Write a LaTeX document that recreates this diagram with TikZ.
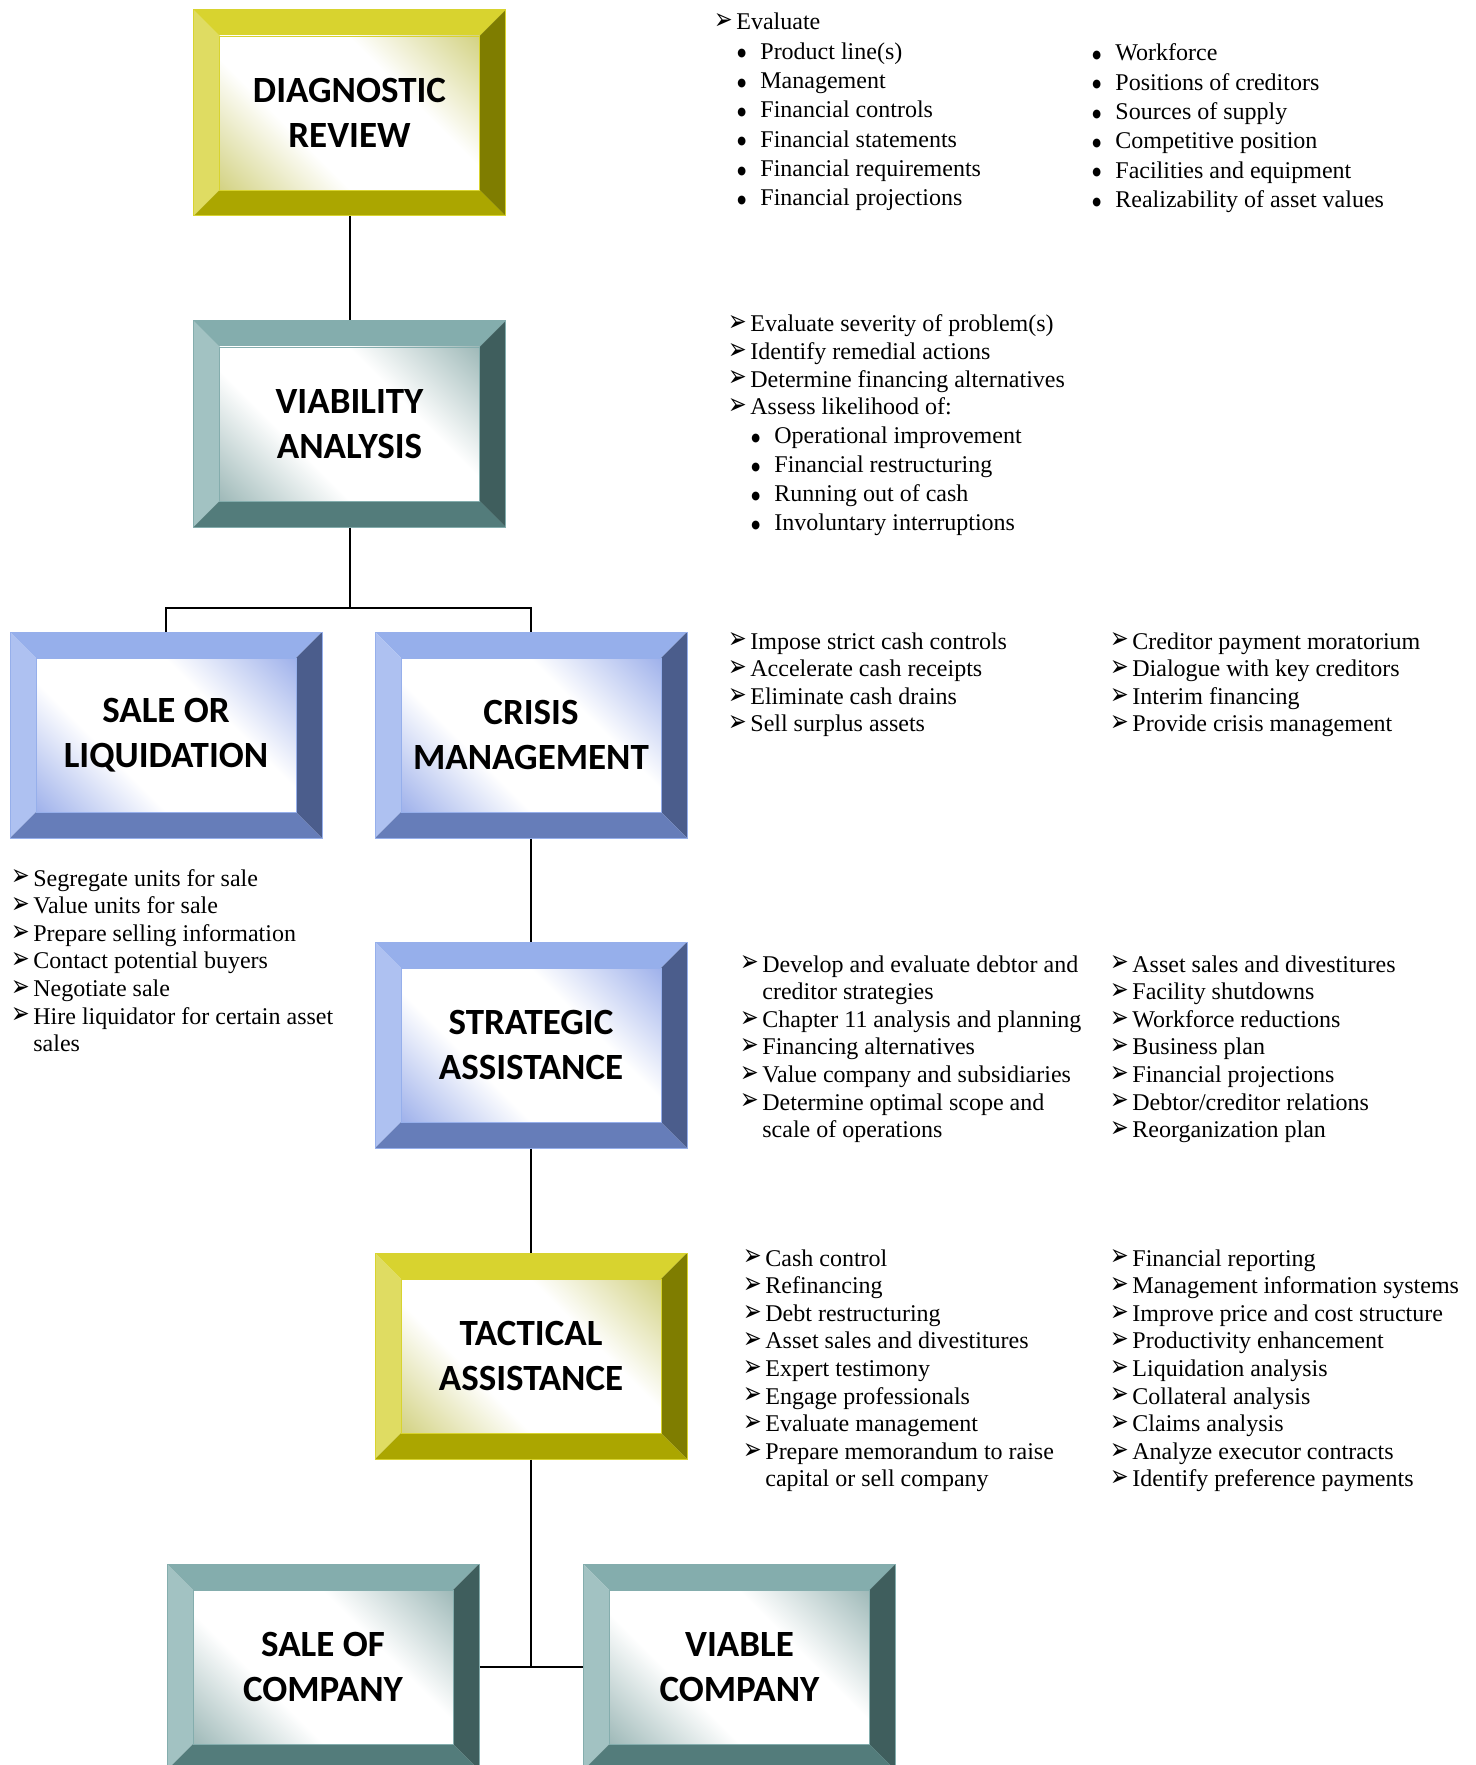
\documentclass[tikz,border=0pt]{standalone}
\usepackage{fontspec}
\setmainfont{Liberation Serif}
\newfontfamily\titlefont{Carlito}
\newfontfamily\symfont{DejaVu Sans}
\usepackage{graphicx}
\usepackage{tikz}
\definecolor{yelT}{RGB}{216,211,47}
\definecolor{yelL}{RGB}{223,220,98}
\definecolor{yelR}{RGB}{127,125,0}
\definecolor{yelB}{RGB}{171,166,0}
\definecolor{yelC}{RGB}{200,199,100}
\definecolor{bluT}{RGB}{150,175,235}
\definecolor{bluL}{RGB}{174,193,241}
\definecolor{bluR}{RGB}{75,93,140}
\definecolor{bluB}{RGB}{102,125,185}
\definecolor{bluC}{RGB}{135,158,230}
\definecolor{tealT}{RGB}{132,173,173}
\definecolor{tealL}{RGB}{162,194,194}
\definecolor{tealR}{RGB}{63,94,93}
\definecolor{tealB}{RGB}{83,124,123}
\definecolor{tealC}{RGB}{135,168,167}
\colorlet{shc}{white}
\pgfdeclareverticalshading[shc]{bevelshade}{100bp}{color(0bp)=(shc); color(9bp)=(shc); color(37bp)=(white); color(63bp)=(white); color(91bp)=(shc); color(100bp)=(shc)}
\newcommand{\arw}{\makebox[11pt][l]{\raisebox{0.1pt}{\resizebox*{9.3pt}{8pt}{\symfont ➢}}}}
\newcommand{\bul}{\makebox[11.5pt][l]{\raisebox{1.2pt}{\resizebox*{4.4pt}{4.4pt}{\symfont ●}}}}
\newcommand{\ind}{\hspace*{11.5pt}}
\newcommand{\cnt}{\hspace*{11pt}}
\tikzset{
  bevelbox/.style={minimum width=156pt, minimum height=103pt, inner sep=0pt, align=center,
    font=\titlefont\bfseries\fontsize{18.5}{22.5}\selectfont, draw=#1T, line width=0.5pt,
    path picture={
      \coordinate (o1) at (path picture bounding box.north west);
      \coordinate (o2) at (path picture bounding box.north east);
      \coordinate (o3) at (path picture bounding box.south east);
      \coordinate (o4) at (path picture bounding box.south west);
      \coordinate (i1) at ([shift={(13pt,-13pt)}]o1);
      \coordinate (i2) at ([shift={(-13pt,-13pt)}]o2);
      \coordinate (i3) at ([shift={(-13pt,13pt)}]o3);
      \coordinate (i4) at ([shift={(13pt,13pt)}]o4);
      \fill[#1T] (o1) -- (o2) -- (i2) -- (i1) -- cycle;
      \fill[#1L] (o1) -- (i1) -- (i4) -- (o4) -- cycle;
      \fill[#1R] (o2) -- (o3) -- (i3) -- (i2) -- cycle;
      \fill[#1B] (o4) -- (i4) -- (i3) -- (o3) -- cycle;
      \colorlet{shc}{#1C}
      \shade[shading=bevelshade, shading angle=-45] (i1) rectangle (i3);
      \draw[#1T, line width=0.4pt] (i1) rectangle (i3);
    }},
  txt/.style={anchor=base west, inner sep=0pt, font=\fontsize{12}{13.8}\selectfont},
  link/.style={line width=1pt}
}

\begin{document}
\begin{tikzpicture}[x=0.5pt,y=-0.5pt]
  \useasboundingbox (0,0) rectangle (1476,1765);
  \clip (0,0) rectangle (1476,1765);

  % boxes
  \node[bevelbox=yel ] (diag)   at (349.5, 113) {DIAGNOSTIC\\REVIEW};
  \node[bevelbox=teal] (via)    at (349.5, 424) {VIABILITY\\ANALYSIS};
  \node[bevelbox=blu ] (sale)   at (166,   735) {SALE OR\\LIQUIDATION};
  \node[bevelbox=blu ] (crisis) at (531,   735) {CRISIS\\MANAGEMENT};
  \node[bevelbox=blu ] (strat)  at (531,  1045) {STRATEGIC\\ASSISTANCE};
  \node[bevelbox=yel ] (tact)   at (531,  1356) {TACTICAL\\ASSISTANCE};
  \node[bevelbox=teal] (salco)  at (323,  1667) {SALE OF\\COMPANY};
  \node[bevelbox=teal] (viable) at (739.5,1667) {VIABLE\\COMPANY};

  % lists
  \node[txt, font=\fontsize{12}{14.65}\selectfont] (diagA) at (714, 30) {\begin{tabular}[t]{@{}l@{}}
    \arw Evaluate\\
    \ind\bul Product line(s)\\
    \ind\bul Management\\
    \ind\bul Financial controls\\
    \ind\bul Financial statements\\
    \ind\bul Financial requirements\\
    \ind\bul Financial projections
  \end{tabular}};
  \node[txt, font=\fontsize{12}{14.65}\selectfont] (diagB) at (1092, 61) {\begin{tabular}[t]{@{}l@{}}
    \bul Workforce\\
    \bul Positions of creditors\\
    \bul Sources of supply\\
    \bul Competitive position\\
    \bul Facilities and equipment\\
    \bul Realizability of asset values
  \end{tabular}};
  \node[txt] (viaL) at (728, 332) {\begin{tabular}[t]{@{}l@{}}
    \arw Evaluate severity of problem(s)\\
    \arw Identify remedial actions\\
    \arw Determine financing alternatives\\
    \arw Assess likelihood of:\\[0.7pt]
    \ind\bul Operational improvement\\[0.7pt]
    \ind\bul Financial restructuring\\[0.7pt]
    \ind\bul Running out of cash\\[0.7pt]
    \ind\bul Involuntary interruptions
  \end{tabular}};
  \node[txt] (crisA) at (728, 649) {\begin{tabular}[t]{@{}l@{}}
    \arw Impose strict cash controls\\
    \arw Accelerate cash receipts\\
    \arw Eliminate cash drains\\
    \arw Sell surplus assets
  \end{tabular}};
  \node[txt] (crisB) at (1110, 649) {\begin{tabular}[t]{@{}l@{}}
    \arw Creditor payment moratorium\\
    \arw Dialogue with key creditors\\
    \arw Interim financing\\
    \arw Provide crisis management
  \end{tabular}};
  \node[txt] (saleL) at (11, 886) {\begin{tabular}[t]{@{}l@{}}
    \arw Segregate units for sale\\
    \arw Value units for sale\\
    \arw Prepare selling information\\
    \arw Contact potential buyers\\
    \arw Negotiate sale\\
    \arw Hire liquidator for certain asset\\
    \cnt sales
  \end{tabular}};
  \node[txt] (stratA) at (740, 972) {\begin{tabular}[t]{@{}l@{}}
    \arw Develop and evaluate debtor and\\
    \cnt creditor strategies\\
    \arw Chapter 11 analysis and planning\\
    \arw Financing alternatives\\
    \arw Value company and subsidiaries\\
    \arw Determine optimal scope and\\
    \cnt scale of operations
  \end{tabular}};
  \node[txt] (stratB) at (1110, 972) {\begin{tabular}[t]{@{}l@{}}
    \arw Asset sales and divestitures\\
    \arw Facility shutdowns\\
    \arw Workforce reductions\\
    \arw Business plan\\
    \arw Financial projections\\
    \arw Debtor/creditor relations\\
    \arw Reorganization plan
  \end{tabular}};
  \node[txt] (tactA) at (743, 1266) {\begin{tabular}[t]{@{}l@{}}
    \arw Cash control\\
    \arw Refinancing\\
    \arw Debt restructuring\\
    \arw Asset sales and divestitures\\
    \arw Expert testimony\\
    \arw Engage professionals\\
    \arw Evaluate management\\
    \arw Prepare memorandum to raise\\
    \cnt capital or sell company
  \end{tabular}};
  \node[txt] (tactB) at (1110, 1266) {\begin{tabular}[t]{@{}l@{}}
    \arw Financial reporting\\
    \arw Management information systems\\
    \arw Improve price and cost structure\\
    \arw Productivity enhancement\\
    \arw Liquidation analysis\\
    \arw Collateral analysis\\
    \arw Claims analysis\\
    \arw Analyze executor contracts\\
    \arw Identify preference payments
  \end{tabular}};

  % connectors
  \coordinate (split) at (349.5, 608);
  \coordinate (join)  at (531, 1667);
  \draw[link] (diag) -- (via);
  \draw[link] (via) -- (split);
  \draw[link] (split) -| (sale);
  \draw[link] (split) -| (crisis);
  \draw[link] (crisis) -- (strat);
  \draw[link] (strat) -- (tact);
  \draw[link] (tact) -- (join);
  \draw[link] (salco) -- (viable);
\end{tikzpicture}
\end{document}
